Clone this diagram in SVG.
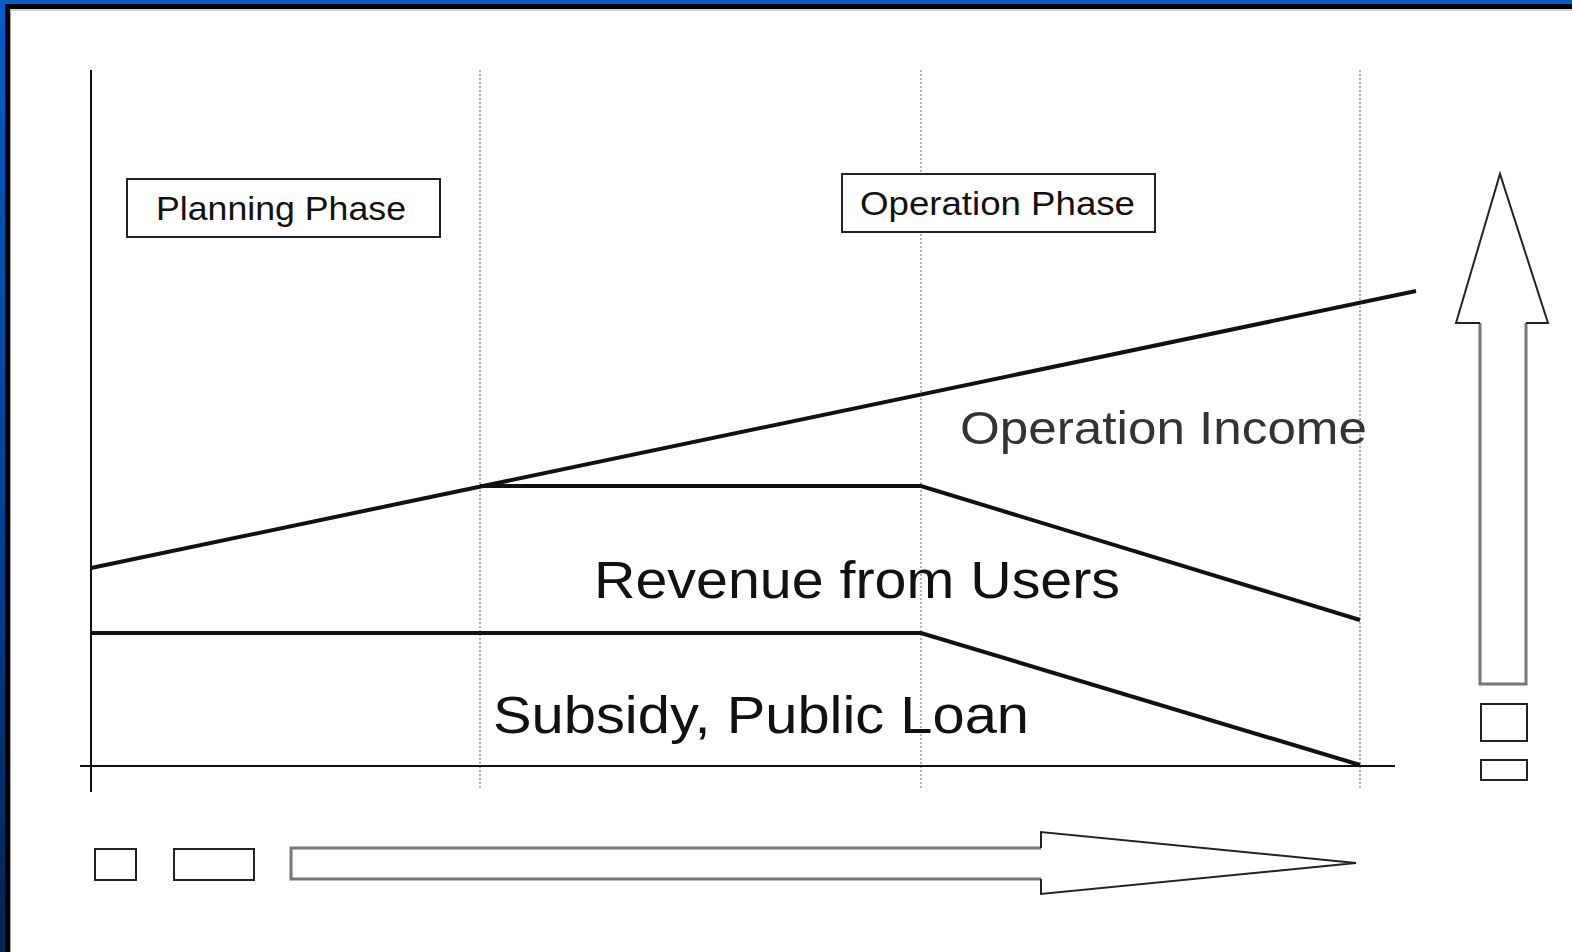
<svg xmlns="http://www.w3.org/2000/svg" width="1572" height="952" viewBox="0 0 1572 952">
<style>
.lbl{font-family:"Liberation Sans",Arial,sans-serif;fill:#111}
.box{fill:#fff;stroke:#222;stroke-width:2}
.grid{stroke:#999;stroke-width:1.5;stroke-dasharray:2 2}
.line{stroke:#111;stroke-width:4;fill:none}
.axis{stroke:#111;stroke-width:2;fill:none}
</style>
<defs>
<linearGradient id="lb" x1="0" y1="0" x2="0" y2="1">
<stop offset="0" stop-color="#0a5cc4"/>
<stop offset="0.6" stop-color="#053e8a"/>
<stop offset="1" stop-color="#02244f"/>
</linearGradient>
</defs>
<rect width="1572" height="952" fill="#fff"/>
<g id="frame">
<rect x="0" y="0" width="1572" height="4" fill="#0a5cc4"/>
<rect x="0" y="0" width="5" height="952" fill="url(#lb)"/>
<rect x="5" y="4" width="1567" height="5" fill="#000"/>
<rect x="5" y="4" width="5" height="948" fill="#000"/>
<line x1="10" y1="10" x2="1572" y2="10" stroke="#aaa" stroke-width="1"/>
<line x1="10.5" y1="10" x2="10.5" y2="952" stroke="#aaa" stroke-width="1"/>
</g>
<g id="grid">
<line class="grid" x1="480" y1="70" x2="480" y2="790"/>
<line class="grid" x1="921" y1="70" x2="921" y2="790"/>
<line class="grid" x1="1360" y1="70" x2="1360" y2="790"/>
</g>
<g id="axes">
<line class="axis" x1="91" y1="70" x2="91" y2="792"/>
<line class="axis" x1="80" y1="766" x2="1395" y2="766"/>
</g>
<g id="connectors">
<polyline class="line" points="91,568 1416,291"/>
<polyline class="line" points="480,486 921,486 1360,620"/>
<polyline class="line" points="91,633 921,633 1360,765"/>
</g>
<g id="planning-phase">
<rect class="box" x="127" y="179" width="313" height="58"/>
<text class="lbl" x="156" y="220" font-size="33" textLength="250" lengthAdjust="spacingAndGlyphs">Planning Phase</text>
</g>
<g id="operation-phase">
<rect class="box" x="842" y="174" width="313" height="58"/>
<text class="lbl" x="860" y="215" font-size="33" textLength="275" lengthAdjust="spacingAndGlyphs">Operation Phase</text>
</g>
<g id="operation-income">
<text class="lbl" x="960" y="444" font-size="46" fill="#222" textLength="407" lengthAdjust="spacingAndGlyphs" style="fill:#333">Operation Income</text>
</g>
<g id="revenue">
<text class="lbl" x="594" y="598" font-size="51" textLength="526" lengthAdjust="spacingAndGlyphs">Revenue from Users</text>
</g>
<g id="subsidy">
<text class="lbl" x="493" y="733" font-size="51" textLength="536" lengthAdjust="spacingAndGlyphs">Subsidy, Public Loan</text>
</g>
<g id="time-arrow">
<rect x="95" y="849" width="41" height="31" fill="#fff" stroke="#222" stroke-width="2"/>
<rect x="174" y="849" width="80" height="31" fill="#fff" stroke="#222" stroke-width="2"/>
<path d="M1041,848 L291,848 L291,879 L1041,879" fill="#fff" stroke="#777" stroke-width="3"/>
<path d="M1041,848 L1041,832 L1356,863 L1041,894 L1041,879" fill="#fff" stroke="#222" stroke-width="2" stroke-linejoin="miter"/>
</g>
<g id="value-arrow">
<path d="M1480,323 L1480,684 L1526,684 L1526,323" fill="#fff" stroke="#777" stroke-width="3"/>
<path d="M1480,323 L1456,323 L1500,174 L1548,323 L1526,323" fill="#fff" stroke="#222" stroke-width="2"/>
<rect x="1481" y="704" width="46" height="37" fill="#fff" stroke="#222" stroke-width="2"/>
<rect x="1481" y="760" width="46" height="20" fill="#fff" stroke="#222" stroke-width="2"/>
</g>
</svg>
